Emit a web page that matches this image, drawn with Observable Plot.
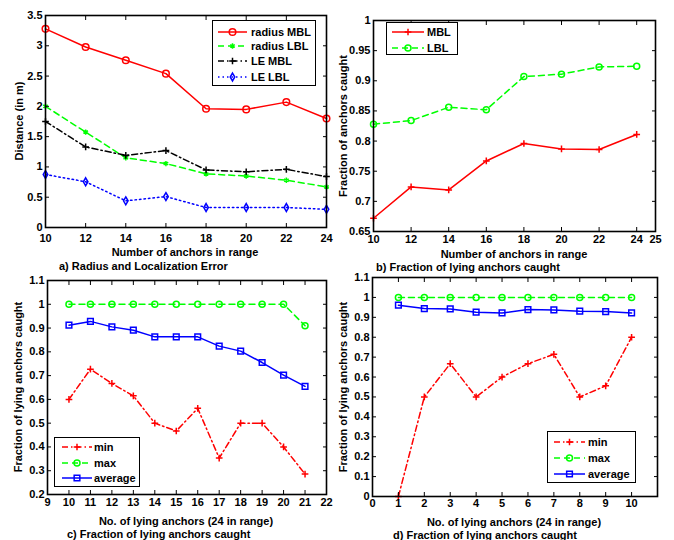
<!DOCTYPE html>
<html>
<head>
<meta charset="utf-8">
<script src="https://cdn.jsdelivr.net/npm/d3@7"></script>
<script src="https://cdn.jsdelivr.net/npm/@observablehq/plot@0.6"></script>
<style>
  html, body { margin: 0; padding: 0; background: #fff; }
  #root { position: relative; width: 674px; height: 540px; background: #fff; overflow: hidden;
          font-family: "Liberation Sans", Arial, Helvetica, sans-serif; font-weight: bold; font-size: 11px; color: #000; }
  .abs { position: absolute; }
  .lbl { position: absolute; white-space: nowrap; line-height: 1; }
</style>
</head>
<body>
<div id="root"></div>
<script>
// ---------- Panel a: Radius and Localization Error ----------
const aX = [10, 12, 14, 16, 18, 20, 22, 24];
const aRadiusMBL = [3.28, 2.98, 2.76, 2.54, 1.96, 1.95, 2.07, 1.80];
const aRadiusLBL = [2.00, 1.575, 1.15, 1.055, 0.885, 0.85, 0.78, 0.67];
const aLEMBL = [1.75, 1.33, 1.19, 1.27, 0.95, 0.92, 0.96, 0.84];
const aLELBL = [0.875, 0.755, 0.44, 0.51, 0.33, 0.33, 0.33, 0.30];
const aXTicks = [10, 12, 14, 16, 18, 20, 22, 24];
const aYTicks = [0, 0.5, 1, 1.5, 2, 2.5, 3, 3.5];

// ---------- Panel b: Fraction of lying anchors caught ----------
const bX = [10, 12, 14, 16, 18, 20, 22, 24];
const bMBL = [0.672, 0.724, 0.719, 0.767, 0.796, 0.787, 0.786, 0.811];
const bLBL = [0.828, 0.834, 0.856, 0.852, 0.907, 0.911, 0.923, 0.924];
const bXTicks = [10, 12, 14, 16, 18, 20, 22, 24, 25];
const bYTicks = [0.65, 0.7, 0.75, 0.8, 0.85, 0.9, 0.95, 1];

// ---------- Panel c ----------
const cX = [10, 11, 12, 13, 14, 15, 16, 17, 18, 19, 20, 21];
const cMin = [0.6, 0.727, 0.667, 0.615, 0.5, 0.467, 0.5625, 0.353, 0.5, 0.5, 0.4, 0.286];
const cMax = [1, 1, 1, 1, 1, 1, 1, 1, 1, 1, 1, 0.91];
const cAvg = [0.912, 0.928, 0.905, 0.891, 0.863, 0.863, 0.863, 0.824, 0.803, 0.755, 0.702, 0.655];
const cXTicks = [9, 10, 11, 12, 13, 14, 15, 16, 17, 18, 19, 20, 21, 22];
const cYTicks = [0.2, 0.3, 0.4, 0.5, 0.6, 0.7, 0.8, 0.9, 1, 1.1];

// ---------- Panel d ----------
const dX = [1, 2, 3, 4, 5, 6, 7, 8, 9, 10];
const dMin = [0, 0.5, 0.667, 0.5, 0.6, 0.667, 0.714, 0.5, 0.556, 0.8];
const dMax = [1, 1, 1, 1, 1, 1, 1, 1, 1, 1];
const dAvg = [0.961, 0.944, 0.942, 0.926, 0.922, 0.939, 0.937, 0.931, 0.929, 0.922];
const dXTicks = [0, 1, 2, 3, 4, 5, 6, 7, 8, 9, 10];
const dYTicks = [0, 0.1, 0.2, 0.3, 0.4, 0.5, 0.6, 0.7, 0.8, 0.9, 1, 1.1];

// ---------- styles ----------
const RED = "#ff0000", GREEN = "#00ff00", BLUE = "#0000ff", BLACK = "#000000";
const DASH = "6,4", DASHDOT = "6,3,1.5,3", DOT = "1.5,3";
const fmt = d => String(+(+d).toFixed(2));

const root = document.getElementById("root");

function addText(str, x, y, rotate) {
  const el = document.createElement("div");
  el.className = "lbl";
  el.textContent = str;
  el.style.left = x + "px";
  el.style.top = y + "px";
  el.style.transform = "translate(-50%,-50%)" + (rotate ? " rotate(-90deg)" : "");
  root.appendChild(el);
}
function addTextLeft(str, x, y) {
  const el = document.createElement("div");
  el.className = "lbl";
  el.textContent = str;
  el.style.left = x + "px";
  el.style.top = y + "px";
  el.style.transform = "translate(0,-50%)";
  root.appendChild(el);
}

function panel(p) {
  const marks = [];
  for (const s of p.series) {
    const rows = s.xs.map((x, i) => ({x, y: s.ys[i]}));
    marks.push(Plot.line(rows, {x: "x", y: "y", stroke: s.color, strokeWidth: 1.5, strokeDasharray: s.dash}));
    marks.push(Plot.dot(rows, {x: "x", y: "y", symbol: s.symbol, r: s.r, stroke: s.color, strokeWidth: 1.5, fill: "none"}));
  }
  const empty = () => "";
  marks.push(
    Plot.axisX(p.xTicks, {anchor: "bottom", tickSize: 4, dy: -4, tickFormat: empty, label: null}),
    Plot.axisX(p.xTicks, {anchor: "top", tickSize: 4, dy: 4, tickFormat: empty, label: null}),
    Plot.axisY(p.yTicks, {anchor: "left", tickSize: 4, dx: 4, tickFormat: empty, label: null}),
    Plot.axisY(p.yTicks, {anchor: "right", tickSize: 4, dx: -4, tickFormat: empty, label: null}),
    Plot.axisX(p.xTicks, {anchor: "bottom", tickSize: 0, tickPadding: p.xPad, tickFormat: fmt, label: null}),
    Plot.axisY(p.yTicks, {anchor: "left", tickSize: 0, tickPadding: 3, tickFormat: fmt, label: null}),
    Plot.frame({stroke: BLACK, strokeWidth: 1.6})
  );
  const svg = Plot.plot({
    width: p.width, height: p.height,
    marginLeft: p.m[0], marginTop: p.m[1], marginRight: p.m[2], marginBottom: p.m[3],
    x: {domain: p.xDomain, label: null},
    y: {domain: p.yDomain, label: null},
    style: {fontFamily: '"Liberation Sans", Arial, sans-serif', fontSize: "11px", fontWeight: "bold", color: "#000", background: "transparent", overflow: "visible"},
    marks
  });
  const wrap = document.createElement("div");
  wrap.className = "abs";
  wrap.style.left = p.left + "px";
  wrap.style.top = p.top + "px";
  wrap.appendChild(svg);
  root.appendChild(wrap);
}

const symMap = {circle: d3.symbolCircle, asterisk: d3.symbolAsterisk, plus: d3.symbolPlus, diamond: d3.symbolDiamond, square: d3.symbolSquare};

function legend(l) {
  const w = l.x1 - l.x0, h = l.y1 - l.y0;
  const svg = d3.create("svg").attr("width", w).attr("height", h)
    .style("position", "absolute").style("left", l.x0 + "px").style("top", l.y0 + "px").style("overflow", "visible");
  svg.append("rect").attr("x", 0.5).attr("y", 0.5).attr("width", w - 1).attr("height", h - 1)
    .attr("fill", "#fff").attr("stroke", "#000").attr("stroke-width", 1);
  l.items.forEach((s, i) => {
    const y = l.rows[i] - l.y0;
    svg.append("line").attr("x1", l.lx0 - l.x0).attr("x2", l.lx1 - l.x0).attr("y1", y).attr("y2", y)
      .attr("stroke", s.color).attr("stroke-width", 1.5).attr("stroke-dasharray", s.dash || null);
    svg.append("path").attr("d", d3.symbol(symMap[s.symbol], Math.PI * s.r * s.r)())
      .attr("transform", `translate(${(l.lx0 + l.lx1) / 2 - l.x0},${y})`)
      .attr("fill", "none").attr("stroke", s.color).attr("stroke-width", 1.5);
    svg.append("text").attr("x", l.tx - l.x0).attr("y", y).attr("dy", "0.35em")
      .attr("font-family", '"Liberation Sans", Arial, sans-serif').attr("font-size", 11).attr("font-weight", "bold")
      .text(s.name);
  });
  root.appendChild(svg.node());
}

// ---------- series definitions ----------
const aSeries = [
  {name: "radius MBL", xs: aX, ys: aRadiusMBL, color: RED, dash: null, symbol: "circle", r: 3.3},
  {name: "radius LBL", xs: aX, ys: aRadiusLBL, color: GREEN, dash: DASH, symbol: "asterisk", r: 2.5},
  {name: "LE MBL", xs: aX, ys: aLEMBL, color: BLACK, dash: DASHDOT, symbol: "plus", r: 2.3},
  {name: "LE LBL", xs: aX, ys: aLELBL, color: BLUE, dash: DOT, symbol: "diamond", r: 2.4}
];
const bSeries = [
  {name: "MBL", xs: bX, ys: bMBL, color: RED, dash: null, symbol: "plus", r: 2.3},
  {name: "LBL", xs: bX, ys: bLBL, color: GREEN, dash: DASH, symbol: "circle", r: 3}
];
const cSeries = [
  {name: "min", xs: cX, ys: cMin, color: RED, dash: DASHDOT, symbol: "plus", r: 2.3},
  {name: "max", xs: cX, ys: cMax, color: GREEN, dash: DASH, symbol: "circle", r: 3},
  {name: "average", xs: cX, ys: cAvg, color: BLUE, dash: null, symbol: "square", r: 3.2}
];
const dSeries = [
  {name: "min", xs: dX, ys: dMin, color: RED, dash: DASHDOT, symbol: "plus", r: 2.3},
  {name: "max", xs: dX, ys: dMax, color: GREEN, dash: DASH, symbol: "circle", r: 3},
  {name: "average", xs: dX, ys: dAvg, color: BLUE, dash: null, symbol: "square", r: 3.2}
];

// ---------- panels ----------
panel({left: 0, top: 0, width: 337, height: 265, m: [45, 15, 11, 38], xDomain: [10, 24], yDomain: [0, 3.5],
       xTicks: aXTicks, yTicks: aYTicks, series: aSeries, xPad: 7});
panel({left: 337, top: 0, width: 337, height: 265, m: [36, 20, 19, 34], xDomain: [10, 25], yDomain: [0.65, 1],
       xTicks: bXTicks, yTicks: bYTicks, series: bSeries, xPad: 4});
panel({left: 0, top: 265, width: 337, height: 275, m: [47, 15, 11, 46], xDomain: [9, 22], yDomain: [0.2, 1.1],
       xTicks: cXTicks, yTicks: cYTicks, series: cSeries, xPad: 4});
panel({left: 337, top: 265, width: 337, height: 275, m: [35, 12, 17, 44], xDomain: [0, 11], yDomain: [0, 1.1],
       xTicks: dXTicks, yTicks: dYTicks, series: dSeries, xPad: 3});

// ---------- legends ----------
legend({x0: 212, x1: 316, y0: 20, y1: 86, lx0: 218, lx1: 247, tx: 251, rows: [32, 46, 61, 77], items: aSeries});
legend({x0: 386, x1: 458, y0: 22, y1: 55, lx0: 392, lx1: 424, tx: 427, rows: [32, 48], items: bSeries});
legend({x0: 54, x1: 140, y0: 437, y1: 487, lx0: 62, lx1: 92, tx: 94, rows: [447, 463, 478], items: cSeries});
legend({x0: 547, x1: 636, y0: 431, y1: 483, lx0: 554, lx1: 585, tx: 588, rows: [442, 458, 474], items: dSeries});

// ---------- axis labels and captions ----------
addText("Number of anchors in range", 185, 252);
addText("Distance (in m)", 19, 121, true);
addTextLeft("a) Radius and Localization Error", 59, 266);

addText("Number of anchors in range", 514, 254);
addText("Fraction of anchors caught", 343, 126, true);
addTextLeft("b) Fraction of lying anchors caught", 376, 267);

addText("No. of lying anchors (24 in range)", 186, 521);
addText("Fraction of lying anchors caught", 18, 387, true);
addTextLeft("c) Fraction of lying anchors caught", 67, 534);

addText("No. of lying anchors (24 in range)", 514, 522);
addText("Fraction of lying anchors caught", 343, 387, true);
addTextLeft("d) Fraction of lying anchors caught", 393, 535);
</script>
</body>
</html>
